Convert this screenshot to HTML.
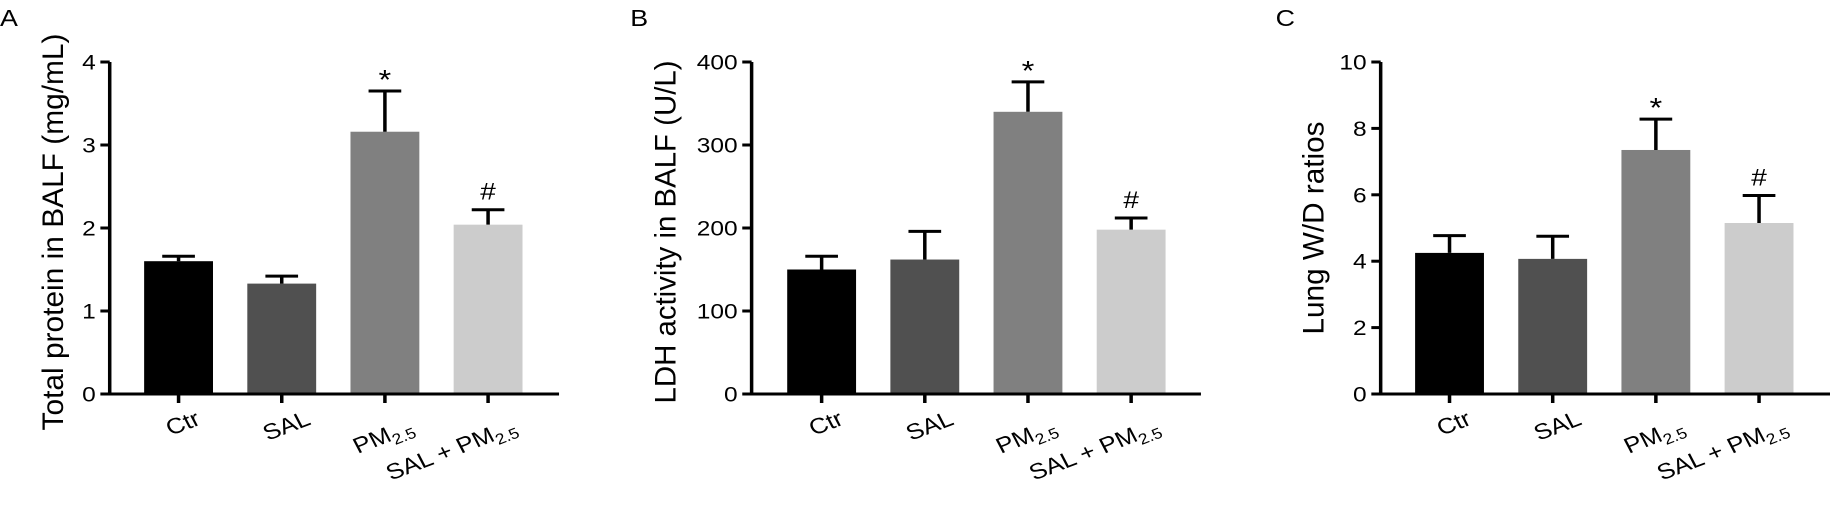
<!DOCTYPE html>
<html><head><meta charset="utf-8"><style>
html,body{margin:0;padding:0;background:#fff;}
svg{display:block;font-family:"Liberation Sans",sans-serif;}
</style></head><body>
<svg id="fig" width="1830" height="506" viewBox="0 0 1568 506" preserveAspectRatio="none" xmlns="http://www.w3.org/2000/svg"></svg>
<script>
const categories = ["Ctr", "SAL", "PM", "SAL + PM"];
const colors = ["#000000", "#505050", "#808080", "#cccccc"];
const valuesA = [1.60, 1.33, 3.16, 2.04];
const errorsA = [1.66, 1.42, 3.65, 2.22];
const ticksA = [0, 1, 2, 3, 4];
const valuesB = [150, 162, 340, 198];
const errorsB = [166, 196, 376, 212];
const ticksB = [0, 100, 200, 300, 400];
const valuesC = [4.25, 4.07, 7.35, 5.15];
const errorsC = [4.77, 4.75, 8.28, 5.98];
const ticksC = [0, 2, 4, 6, 8, 10];
const marksA = ["", "", "*", "#"];
const marksB = ["", "", "*", "#"];
const marksC = ["", "", "*", "#"];

const NS = "http://www.w3.org/2000/svg";
const svg = document.getElementById("fig");
function mk(tag, attrs, parent) {
  const e = document.createElementNS(NS, tag);
  for (const k in attrs) e.setAttribute(k, attrs[k]);
  (parent || svg).appendChild(e);
  return e;
}

const panels = [
  {id:"a", letter:"A", lx:0, axisX:94, firstC:153, endX:479, max:4, ticks:ticksA, vals:valuesA, errs:errorsA, marks:marksA,
   title:"Total protein in BALF (mg/mL)", tx:45, ty:232, tl:397},
  {id:"b", letter:"B", lx:540, axisX:644, firstC:704, endX:1029, max:400, ticks:ticksB, vals:valuesB, errs:errorsB, marks:marksB,
   title:"LDH activity in BALF (U/L)", tx:570, ty:232, tl:343},
  {id:"c", letter:"C", lx:1093, axisX:1183, firstC:1242, endX:1568, max:10, ticks:ticksC, vals:valuesC, errs:errorsC, marks:marksC,
   title:"Lung W/D ratios", tx:1125, ty:228, tl:213}
];
const Y0 = 394, YT = 62, SP = 88.4, BW = 59, CAP = 28;

panels.forEach(p => {
  const g = mk("g", {});
  
  
  const y = v => Y0 - (v / p.max) * (Y0 - YT);
  const x = i => p.firstC + i * SP;

  const L = mk("text", {x:p.lx, y:26, "font-size":23, fill:"#000"}, g);
  L.textContent = p.letter;
  
  

  const t = mk("text", {x:0, y:0, "font-size":25, "text-anchor":"middle", textLength:p.tl, lengthAdjust:"spacingAndGlyphs",
    transform:`translate(${p.tx + 9},${p.ty}) rotate(-90)`}, g);
  t.textContent = p.title;
  
  

  // bars
  p.vals.forEach((v, i) => {
    const r = mk("rect", {x:x(i) - BW/2, y:y(v), width:BW, height:Y0 - y(v), fill:colors[i]}, g);
    
    
    const e = mk("path", {d:`M${x(i)} ${y(v)} V${y(p.errs[i])} M${x(i)-CAP/2} ${y(p.errs[i])} H${x(i)+CAP/2}`, stroke:"#000", "stroke-width":3, fill:"none"}, g);
    
    
    if (p.marks[i]) {
      const isStar = p.marks[i] === "*";
      const m = mk("text", {x:x(i), y:y(p.errs[i]) - (isStar ? 2 : 10), "font-size": isStar ? 28 : 24, "text-anchor":"middle"}, g);
      m.textContent = p.marks[i];
      
      
    }
  });

  // axes
  const ax = mk("path", {d:`M${p.axisX} ${YT} V${Y0} H${p.endX}`, stroke:"#000", "stroke-width":3, fill:"none"}, g);
  
  
  p.ticks.forEach(tv => {
    const tk = mk("line", {x1:p.axisX - 8, x2:p.axisX, y1:y(tv), y2:y(tv), stroke:"#000", "stroke-width":3}, g);
    
    
    const tl = mk("text", {x:p.axisX - 12, y:y(tv) + 7.5, "font-size":21, "text-anchor":"end"}, g);
    tl.textContent = tv;
    
    
  });
  categories.forEach((c, i) => {
    const tk = mk("line", {x1:x(i), x2:x(i), y1:Y0, y2:Y0 + 9, stroke:"#000", "stroke-width":3}, g);
    
    
    const tx = mk("text", {x:0, y:0, "font-size":22, "text-anchor":"end",
      transform:`translate(${x(i) + (i === 0 ? 20 : 26)},${i < 2 ? 424 : 432}) rotate(-24)`}, g);
    
    
    tx.appendChild(document.createTextNode(c));
    if (c.indexOf("PM") >= 0) {
      const s = mk("tspan", {"font-size":15, dy:5}, tx);
      s.textContent = "2.5";
    }
  });
});
</script>
</body></html>
